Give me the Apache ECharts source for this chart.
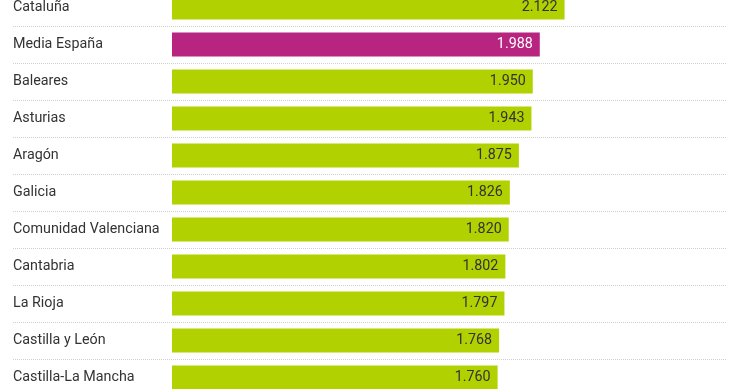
<!DOCTYPE html>
<html><head><meta charset="utf-8">
<script src="https://cdn.jsdelivr.net/npm/echarts@6/dist/echarts.min.js"></script>
<style>html,body{margin:0;padding:0;background:#fff}#c{width:740px;height:389px}</style>
</head><body><div id="c"></div>
<script>
const categories = ["Cataluña","Media España","Baleares","Asturias","Aragón","Galicia","Comunidad Valenciana","Cantabria","La Rioja","Castilla y León","Castilla-La Mancha"];
const values = [2122,1988,1950,1943,1875,1826,1820,1802,1797,1768,1760];
const highlight = "Media España";
const green = "#b1d100", pink = "#b82580";
const fmt = v => String(v).replace(/\B(?=(\d{3})+(?!\d))/g, ".");
const chart = echarts.init(document.getElementById('c'), null, {renderer:'canvas'});
const gridTop = -11, gridBottom = -7;
chart.setOption({
  animation:false,
  textStyle:{fontFamily:'Roboto'},
  grid:[
    {left:172, right:13, top:gridTop, bottom:gridBottom, containLabel:false, outerBoundsMode:'none'},
    {left:13, right:13, top:gridTop, bottom:gridBottom, containLabel:false, outerBoundsMode:'none'}
  ],
  xAxis:[
    {gridIndex:0, type:'value', min:0, max:3000, show:false},
    {gridIndex:1, type:'value', min:0, max:1, show:false}
  ],
  yAxis:[
    {gridIndex:0, type:'category', data:categories, inverse:true,
     axisLine:{show:false}, axisTick:{show:false}, splitLine:{show:false},
     axisLabel:{align:'left', margin:159, color:'#333', fontSize:14.3, fontFamily:'Roboto'}},
    {gridIndex:1, type:'category', data:categories, inverse:true,
     axisLine:{show:false}, axisTick:{show:false}, axisLabel:{show:false},
     splitLine:{show:true, lineStyle:{color:'#d0d0d0', type:[1,1], width:1}}}
  ],
  series:[{
    type:'bar', xAxisIndex:0, yAxisIndex:0, barWidth:24,
    data: values.map((v,i)=>({value:v, itemStyle:{color: categories[i]===highlight?pink:green},
      label:{color: categories[i]===highlight?'#fff':'#333'}})),
    label:{show:true, position:'insideRight', distance:7, fontSize:14.3, fontFamily:'Roboto', formatter:p=>fmt(p.value)}
  }]
});
</script></body></html>
